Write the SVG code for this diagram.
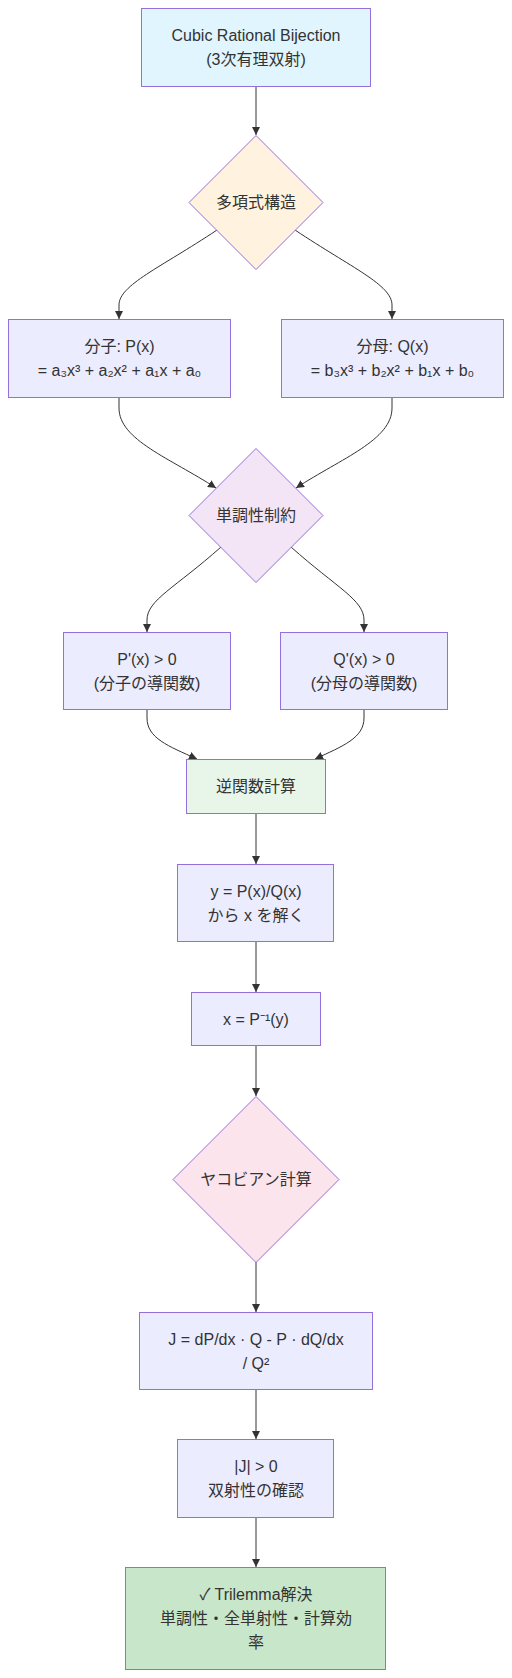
<svg xmlns="http://www.w3.org/2000/svg" width="512" height="1678" viewBox="0 0 512 1678">
<style>
.n{stroke:#9370DB;stroke-width:1}
.d{fill:#ECECFF}
.t{font-family:"Liberation Sans","Noto Sans CJK JP",sans-serif;font-size:16px;fill:#333;text-anchor:middle;dominant-baseline:central}
.e{fill:none;stroke:#333;stroke-width:1;marker-end:url(#ah)}
</style>
<defs>
<marker id="ah" viewBox="0 0 10 10" refX="10" refY="5" markerWidth="8" markerHeight="8" markerUnits="userSpaceOnUse" orient="auto">
<path d="M0,0 L10,5 L0,10 z" fill="#333"/>
</marker>
</defs>
<rect width="512" height="1678" fill="#fff"/>
<g id="edges">
<path class="e" d="M256,86 L256,135"/>
<path class="e" d="M217,230 C160,268 119,285 119,305 L119,319"/>
<path class="e" d="M295,230 C352,268 392,285 392,305 L392,319"/>
<path class="e" d="M119,398 L119,408 C119,440 170,458 216,488"/>
<path class="e" d="M392,398 L392,408 C392,440 342,458 296,488"/>
<path class="e" d="M221,547 C175,588 147,600 147,620 L147,632"/>
<path class="e" d="M291,547 C337,588 364,600 364,620 L364,632"/>
<path class="e" d="M147,710 L147,718 C147,738 168,746 197,759"/>
<path class="e" d="M364,710 L364,718 C364,738 343,746 315,759"/>
<path class="e" d="M256,814 L256,864"/>
<path class="e" d="M256,942 L256,992"/>
<path class="e" d="M256,1046 L256,1096"/>
<path class="e" d="M256,1262 L256,1312"/>
<path class="e" d="M256,1390 L256,1439"/>
<path class="e" d="M256,1518 L256,1567"/>
</g>
<g id="n_top"><rect class="n" x="141.5" y="8.5" width="229" height="78" fill="#E1F5FE"/><text class="t" x="256" y="35">Cubic Rational Bijection</text><text class="t" x="256" y="59">(3次有理双射)</text></g>
<g id="n_poly"><polygon class="n" points="256,135.5 323,202.5 256,269.5 189,202.5" fill="#FFF3E0"/><text class="t" x="256" y="202.5">多項式構造</text></g>
<g id="n_P"><rect class="n d" x="8.5" y="319.5" width="222" height="78"/><text class="t" x="119.5" y="346.5">分子: P(x)</text><text class="t" x="119.5" y="370.5">= a₃x³ + a₂x² + a₁x + a₀</text></g>
<g id="n_Q"><rect class="n d" x="281.5" y="319.5" width="222" height="78"/><text class="t" x="392.5" y="346.5">分母: Q(x)</text><text class="t" x="392.5" y="370.5">= b₃x³ + b₂x² + b₁x + b₀</text></g>
<g id="n_mono"><polygon class="n" points="256,448.5 323,515.5 256,582.5 189,515.5" fill="#F3E5F5"/><text class="t" x="256" y="515.5">単調性制約</text></g>
<g id="n_dP"><rect class="n d" x="63.5" y="632.5" width="167" height="77"/><text class="t" x="147" y="659">P'(x) &gt; 0</text><text class="t" x="147" y="683">(分子の導関数)</text></g>
<g id="n_dQ"><rect class="n d" x="280.5" y="632.5" width="167" height="77"/><text class="t" x="364" y="659">Q'(x) &gt; 0</text><text class="t" x="364" y="683">(分母の導関数)</text></g>
<g id="n_inv"><rect class="n" x="186.5" y="759.5" width="139" height="54" fill="#E8F5E9"/><text class="t" x="256" y="786.5">逆関数計算</text></g>
<g id="n_solve"><rect class="n d" x="177.5" y="864.5" width="156" height="77"/><text class="t" x="256" y="891">y = P(x)/Q(x)</text><text class="t" x="256" y="915">から x を解く</text></g>
<g id="n_x"><rect class="n d" x="191.5" y="992.5" width="129" height="53"/><text class="t" x="256" y="1019">x = P⁻¹(y)</text></g>
<g id="n_jac"><polygon class="n" points="256,1096.5 339,1179.5 256,1262.5 173,1179.5" fill="#FCE4EC"/><text class="t" x="256" y="1179.5">ヤコビアン計算</text></g>
<g id="n_J"><rect class="n d" x="139.5" y="1312.5" width="233" height="77"/><text class="t" x="256" y="1339">J = dP/dx · Q - P · dQ/dx</text><text class="t" x="256" y="1363">/ Q²</text></g>
<g id="n_absJ"><rect class="n d" x="177.5" y="1439.5" width="156" height="78"/><text class="t" x="256" y="1466.5">|J| &gt; 0</text><text class="t" x="256" y="1490.5">双射性の確認</text></g>
<g id="n_final"><rect class="n" x="125.5" y="1567.5" width="260" height="102" fill="#C8E6C9"/><text class="t" x="256" y="1594.5">✓ Trilemma解決</text><text class="t" x="256" y="1618.5">単調性・全単射性・計算効</text><text class="t" x="256" y="1642.5">率</text></g>
</svg>
